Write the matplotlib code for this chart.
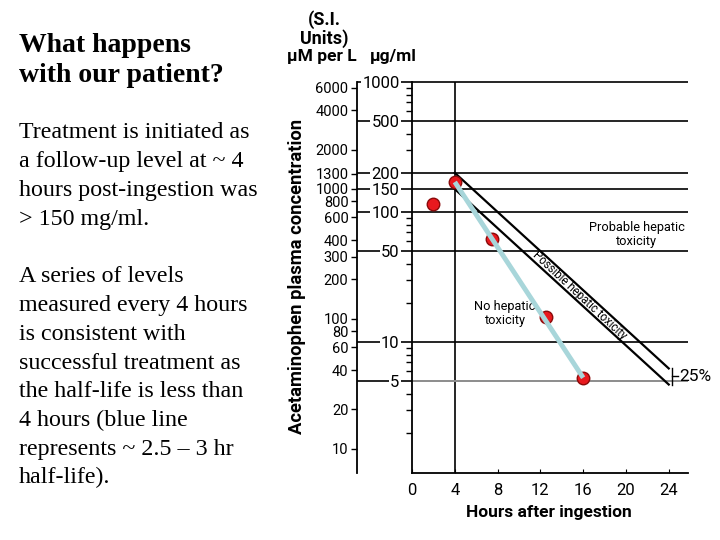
import numpy as np
import matplotlib.pyplot as plt
from matplotlib.ticker import NullLocator, NullFormatter, LogLocator

# data
hours_ticks = [0, 4, 8, 12, 16, 20, 24]
ugml_levels = [1000, 500, 200, 150, 100, 50, 10, 5]
um_ticks = [6000, 4000, 2000, 1300, 1000, 800, 600, 400, 300, 200, 100, 80, 60, 40, 20, 10]
UM_PER_UG = 6.615

probable_x = [4, 24]
probable_y = [200, 6.25]
possible_x = [4, 24]
possible_y = [150, 4.7]

patient_h = [2, 4, 7.5, 12.5, 16]
patient_c = [115, 170, 62, 15.6, 5.3]

W, H = 720, 540

heading = ["What happens", "with our patient?"]
para1 = ["Treatment is initiated as", "a follow-up level at ~ 4",
         "hours post-ingestion was", "> 150 mg/ml."]
para2 = ["A series of levels", "measured every 4 hours", "is consistent with",
         "successful treatment as", "the half-life is less than",
         "4 hours (blue line", "represents ~ 2.5 \u2013 3 hr", "half-life)."]

plt.rcParams['font.family'] = ['Roboto', 'DejaVu Sans']

fig = plt.figure(figsize=(7.2, 5.4), dpi=100)
fig.patch.set_facecolor('white')

# ---- slide text on the left
serif = 'Liberation Serif'
for i, s in enumerate(heading):
    fig.text(19 / W, 1 - (46 + 30 * i) / H, s, family=serif, fontweight='bold',
             fontsize=20, va='center', ha='left')
for i, s in enumerate(para1):
    fig.text(19 / W, 1 - (133 + 28.7 * i) / H, s, family=serif,
             fontsize=17.3, va='center', ha='left')
for i, s in enumerate(para2):
    fig.text(19 / W, 1 - (277 + 28.7 * i) / H, s, family=serif,
             fontsize=17.3, va='center', ha='left')

# ---- nomogram
ax = fig.add_axes([412 / W, 1 - 473 / H, 276 / W, 391 / H])
ax.set_yscale('log')
ax.set_ylim(0.98, 1000)
ax.set_xlim(0, 25.8)
for s in ['top', 'right']:
    ax.spines[s].set_visible(False)
for s in ['left', 'bottom']:
    ax.spines[s].set_linewidth(1.3)

# level lines: black across both scales, the 5 line goes grey inside the plot
ax.hlines(ugml_levels, -0.2, 1, transform=ax.get_yaxis_transform(),
          colors='k', lw=1.2, clip_on=False, zorder=1)
ax.hlines(5, 0.0, 1, transform=ax.get_yaxis_transform(),
          colors='#9a9a9a', lw=1.3, clip_on=False, zorder=1.1)
ax.vlines(4, 0.98, 1000, colors='k', lw=1.2, zorder=1)

ax.set_yticks(ugml_levels)
ax.set_yticklabels([str(v) for v in ugml_levels])
ax.yaxis.set_minor_locator(LogLocator(subs=np.arange(2, 10)))
ax.yaxis.set_minor_formatter(NullFormatter())
ax.tick_params(axis='y', which='major', length=0, pad=9, labelsize=12)
ax.tick_params(axis='y', which='minor', length=4, width=1, direction='out')
for t in ax.get_yticklabels():
    t.set_bbox(dict(facecolor='white', edgecolor='none', pad=1))

ax.set_xticks(hours_ticks)
ax.tick_params(axis='x', direction='in', length=3, labelsize=12, pad=7)

sec = ax.secondary_yaxis(-0.2, functions=(lambda v: v * UM_PER_UG,
                                           lambda v: v / UM_PER_UG))
sec.set_yticks(um_ticks, labels=[str(v) for v in um_ticks])
sec.yaxis.set_minor_locator(NullLocator())
sec.tick_params(length=4, width=1, labelsize=10.5, pad=2)
sec.spines['left'].set_linewidth(1.3)

# toxicity lines
ax.plot(probable_x, probable_y, color='k', lw=1.6)
ax.plot(possible_x, possible_y, color='k', lw=1.6)
ax.plot([24.3, 24.3], [probable_y[1], possible_y[1]], color='k', lw=1, clip_on=False)
ax.plot([24.3, 24.9], [np.sqrt(probable_y[1] * possible_y[1])] * 2, color='k',
        lw=1, clip_on=False)
ax.text(25.0, np.sqrt(probable_y[1] * possible_y[1]), '25%', fontsize=12.5,
        va='center', ha='left', clip_on=False)

ax.text(21.0, 67, 'Probable hepatic\ntoxicity', fontsize=9.2, ha='center',
        va='center', linespacing=1.1)
ax.text(8.7, 16.4, 'No hepatic\ntoxicity', fontsize=9.2, ha='center',
        va='center', linespacing=1.1)
ax.text(15.7, 22.8, 'Possible hepatic toxicity', fontsize=8.3, rotation=-43,
        ha='center', va='center', rotation_mode='anchor')

# patient levels and half-life line
ax.plot(patient_h, patient_c, 'o', ms=9, mfc='#e8191e', mec='#8a0a0a', mew=1,
        zorder=3)
ax.plot([patient_h[1], patient_h[-1]], [patient_c[1], patient_c[-1]],
        color='#a8d6da', lw=3.5, zorder=4, solid_capstyle='butt')

# axis titles
fig.text(324 / W, 1 - 20 / H, '(S.I.', fontsize=13, fontweight='bold',
         ha='center', va='center')
fig.text(324 / W, 1 - 39 / H, 'Units)', fontsize=13, fontweight='bold',
         ha='center', va='center')
fig.text(322 / W, 1 - 57 / H, '\u03bcM per L', fontsize=12.5, fontweight='bold',
         ha='center', va='center')
fig.text(393 / W, 1 - 57 / H, '\u03bcg/ml', fontsize=12.5, fontweight='bold',
         ha='center', va='center')
fig.text(297 / W, 1 - 276 / H, 'Acetaminophen plasma concentration',
         fontsize=13.2, fontweight='bold', rotation=90, ha='center', va='center')
fig.text(549 / W, 1 - 513 / H, 'Hours after ingestion', fontsize=12.5,
         fontweight='bold', ha='center', va='center')

fig.savefig('out.png', dpi=100)
